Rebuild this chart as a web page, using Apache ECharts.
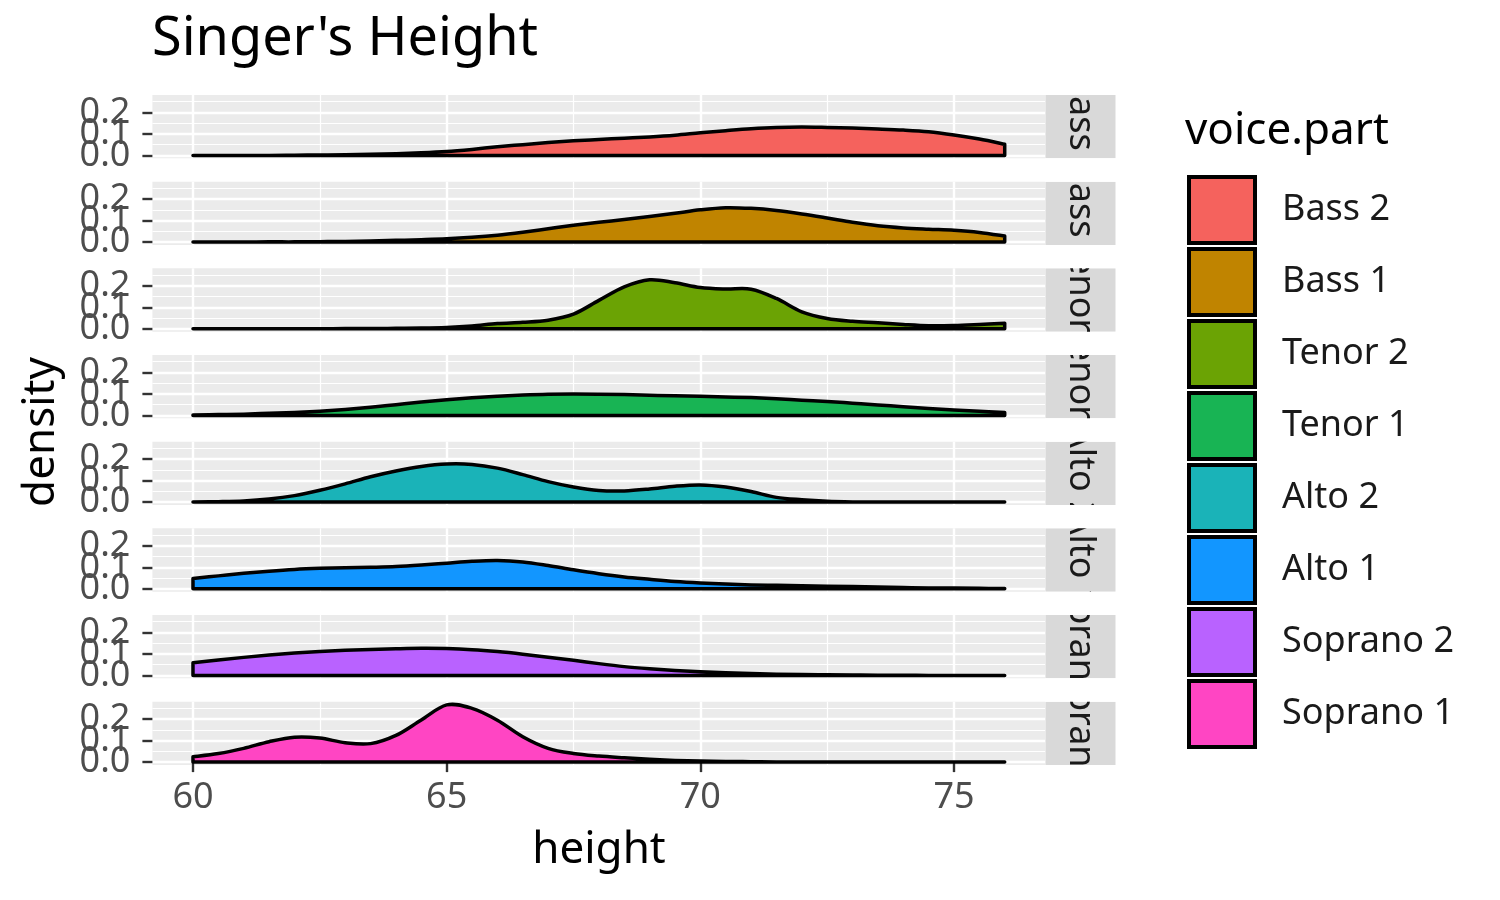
<!DOCTYPE html>
<html>
<head>
<meta charset="utf-8">
<script src="https://cdn.jsdelivr.net/npm/echarts@6/dist/echarts.min.js"></script>
<style>
  html, body { margin: 0; padding: 0; background: #fff; }
  #chart { width: 1500px; height: 900px; }
</style>
</head>
<body>
<div id="chart"></div>
<script>
// height grid the densities were read on (inches)
var heights = [60, 60.5, 61, 61.5, 62, 62.5, 63, 63.5, 64, 64.5, 65, 65.5, 66, 66.5, 67, 67.5,
               68, 68.5, 69, 69.5, 70, 70.5, 71, 71.5, 72, 72.5, 73, 73.5, 74, 74.5, 75, 75.5, 76];

var voiceParts = ['Bass 2', 'Bass 1', 'Tenor 2', 'Tenor 1', 'Alto 2', 'Alto 1', 'Soprano 2', 'Soprano 1'];
var partColors = ['#F5625D', '#C08400', '#6BA304', '#18B454', '#1AB3B8', '#1296FF', '#B962FF', '#FF45C3'];

var bass2 = [0, 0, 0, 0, 0.001, 0.002, 0.003, 0.005, 0.008, 0.012, 0.018, 0.028, 0.040, 0.050, 0.060, 0.068,
             0.074, 0.080, 0.086, 0.094, 0.105, 0.115, 0.124, 0.130, 0.132, 0.130, 0.127, 0.123, 0.118, 0.110, 0.095, 0.076, 0.052];
var bass1 = [0, 0, 0, 0.001, 0.001, 0.002, 0.003, 0.005, 0.008, 0.011, 0.015, 0.022, 0.032, 0.046, 0.062, 0.078,
             0.092, 0.105, 0.119, 0.134, 0.150, 0.160, 0.157, 0.147, 0.131, 0.112, 0.092, 0.076, 0.066, 0.060, 0.055, 0.045, 0.028];
var tenor2 = [0, 0, 0, 0, 0, 0, 0.001, 0.001, 0.002, 0.003, 0.006, 0.013, 0.024, 0.030, 0.040, 0.068,
              0.132, 0.195, 0.228, 0.214, 0.192, 0.185, 0.184, 0.141, 0.079, 0.048, 0.035, 0.028, 0.020, 0.014, 0.015, 0.020, 0.026];
var tenor1 = [0.002, 0.004, 0.006, 0.010, 0.014, 0.020, 0.028, 0.038, 0.050, 0.062, 0.073, 0.082, 0.089, 0.095, 0.099, 0.100,
              0.099, 0.097, 0.094, 0.091, 0.089, 0.086, 0.083, 0.078, 0.071, 0.065, 0.057, 0.049, 0.040, 0.032, 0.025, 0.019, 0.014];
var alto2 = [0.001, 0.002, 0.005, 0.014, 0.030, 0.055, 0.085, 0.118, 0.145, 0.166, 0.177, 0.175, 0.158, 0.128, 0.095, 0.070,
             0.054, 0.052, 0.061, 0.074, 0.080, 0.070, 0.049, 0.022, 0.011, 0.004, 0.001, 0, 0, 0, 0, 0, 0];
var alto1 = [0.048, 0.060, 0.072, 0.082, 0.090, 0.095, 0.098, 0.100, 0.103, 0.110, 0.119, 0.128, 0.132, 0.125, 0.108, 0.088,
             0.070, 0.055, 0.044, 0.034, 0.027, 0.022, 0.018, 0.016, 0.014, 0.012, 0.010, 0.008, 0.006, 0.004, 0.003, 0.002, 0.001];
var soprano2 = [0.059, 0.072, 0.084, 0.095, 0.104, 0.111, 0.117, 0.121, 0.124, 0.126, 0.125, 0.120, 0.111, 0.099, 0.085, 0.071,
                0.055, 0.041, 0.031, 0.023, 0.017, 0.012, 0.009, 0.006, 0.004, 0.003, 0.002, 0.001, 0.001, 0, 0, 0, 0];
var soprano1 = [0.025, 0.040, 0.064, 0.095, 0.116, 0.112, 0.090, 0.086, 0.124, 0.196, 0.266, 0.250, 0.195, 0.118, 0.064, 0.040,
                0.028, 0.020, 0.013, 0.008, 0.005, 0.003, 0.002, 0.001, 0.001, 0, 0, 0, 0, 0, 0, 0, 0];

var densities = [bass2, bass1, tenor2, tenor1, alto2, alto1, soprano2, soprano1];

var xMajorTicks = [60, 65, 70, 75];
var xMinorTicks = [62.5, 67.5, 72.5];
// the three y labels overlap, so they are split over two stacked axes
var yMajorTicksOuter = [0, 0.2];
var yMajorTicksMiddle = [0.1];
var yMinorTicks = [0.05, 0.15, 0.25];

var FONT = 'Noto Sans';
var PANEL_LEFT = 152.4, PANEL_W = 892.9, PANEL_TOP = 95, PANEL_H = 63.3, PANEL_STEP = 86.67;
var STRIP_W = 70.4;
var OUTLINE = 3.5;
var Y_MIN = -0.0134, Y_MAX = 0.281;

// density outline as a closed polygon: baseline, end edges, smooth top through the points
function densityRenderer(dens, color) {
  return function (params, api) {
    var n = heights.length;
    var pts = heights.map(function (h, k) { return api.coord([h, dens[k]]); });
    var b0 = api.coord([heights[0], 0]);
    var bN = api.coord([heights[n - 1], 0]);
    var baseY = b0[1];
    var d = 'M' + b0[0] + ',' + b0[1] + 'L' + pts[0][0] + ',' + pts[0][1];
    for (var k = 0; k < n - 1; k++) {
      var p0 = pts[Math.max(k - 1, 0)], p1 = pts[k], p2 = pts[k + 1], p3 = pts[Math.min(k + 2, n - 1)];
      var c1x = p1[0] + (p2[0] - p0[0]) / 6, c1y = Math.min(baseY, p1[1] + (p2[1] - p0[1]) / 6);
      var c2x = p2[0] - (p3[0] - p1[0]) / 6, c2y = Math.min(baseY, p2[1] - (p3[1] - p1[1]) / 6);
      d += 'C' + c1x + ',' + c1y + ',' + c2x + ',' + c2y + ',' + p2[0] + ',' + p2[1];
    }
    d += 'L' + bN[0] + ',' + bN[1] + 'Z';
    return {
      type: 'path',
      shape: { pathData: d },
      style: { fill: color, stroke: '#000000', lineWidth: OUTLINE, lineJoin: 'round' }
    };
  };
}

function stripRenderer(label) {
  return function (params, api) {
    var cs = params.coordSys;
    var sx = cs.x + cs.width, sy = cs.y, sh = cs.height;
    return {
      type: 'group',
      clipPath: { type: 'rect', shape: { x: sx, y: sy, width: STRIP_W, height: sh } },
      children: [
        { type: 'rect', shape: { x: sx, y: sy, width: STRIP_W, height: sh }, style: { fill: '#D9D9D9' } },
        {
          type: 'text', x: sx + STRIP_W / 2, y: sy + sh / 2, rotation: -Math.PI / 2,
          style: { text: label, fill: '#1A1A1A', fontSize: 36, fontFamily: FONT,
                   align: 'center', verticalAlign: 'middle', textAlign: 'center', textVerticalAlign: 'middle' }
        }
      ]
    };
  };
}

function majorYAxis(gridIndex, ticks) {
  return {
    type: 'value', gridIndex: gridIndex, min: Y_MIN, max: Y_MAX, position: 'left',
    axisLine: { show: false },
    axisTick: { show: true, interval: 0, customValues: ticks, length: 10, lineStyle: { color: '#333333', width: 2.4 } },
    axisLabel: {
      interval: 0, hideOverlap: false, showMinLabel: true, showMaxLabel: true,
      customValues: ticks, margin: 22, fontSize: 36, fontFamily: FONT, color: '#4D4D4D',
      formatter: function (v) { return v.toFixed(1); }
    },
    splitLine: { show: true, interval: 0, lineStyle: { color: '#FFFFFF', width: 2.4 } }
  };
}

var grids = [], xAxes = [], yAxes = [], series = [];

for (var i = 0; i < voiceParts.length; i++) {
  var last = i === voiceParts.length - 1;

  grids.push({
    left: PANEL_LEFT, top: PANEL_TOP + i * PANEL_STEP, width: PANEL_W, height: PANEL_H,
    show: true, backgroundColor: '#EBEBEB', borderWidth: 0
  });

  // major x: labels only on the bottom panel
  xAxes.push({
    type: 'value', gridIndex: i, min: 59.2, max: 76.8, position: 'bottom',
    axisLine: { show: false },
    axisTick: { show: last, interval: 0, customValues: xMajorTicks, length: 10, lineStyle: { color: '#333333', width: 2.4 } },
    axisLabel: { show: last, interval: 0, hideOverlap: false, customValues: xMajorTicks, margin: 15,
                 fontSize: 36, fontFamily: FONT, color: '#4D4D4D' },
    splitLine: { show: true, interval: 0, lineStyle: { color: '#FFFFFF', width: 2.4 } }
  });
  // minor x gridlines
  xAxes.push({
    type: 'value', gridIndex: i, min: 59.2, max: 76.8, position: 'top',
    axisLine: { show: false },
    axisTick: { show: false, interval: 0, customValues: xMinorTicks },
    axisLabel: { show: false },
    splitLine: { show: true, interval: 0, lineStyle: { color: '#FFFFFF', width: 1.2 } }
  });

  yAxes.push(majorYAxis(i, yMajorTicksOuter));
  yAxes.push(majorYAxis(i, yMajorTicksMiddle));
  // minor y gridlines
  yAxes.push({
    type: 'value', gridIndex: i, min: Y_MIN, max: Y_MAX, position: 'right',
    axisLine: { show: false },
    axisTick: { show: false, interval: 0, customValues: yMinorTicks },
    axisLabel: { show: false },
    splitLine: { show: true, interval: 0, lineStyle: { color: '#FFFFFF', width: 1.2 } }
  });

  series.push({
    type: 'custom', name: voiceParts[i], xAxisIndex: 2 * i, yAxisIndex: 3 * i,
    data: [[heights[0], 0]], silent: true, z: 3,
    itemStyle: { color: partColors[i] },
    renderItem: densityRenderer(densities[i], partColors[i])
  });
  // facet strip on the right, text clipped to the strip box
  series.push({
    type: 'custom', name: 'strip ' + voiceParts[i], xAxisIndex: 2 * i, yAxisIndex: 3 * i,
    data: [[heights[0], 0]], silent: true, z: 5,
    renderItem: stripRenderer(voiceParts[i])
  });
}

var chart = echarts.init(document.getElementById('chart'));
chart.setOption({
  animation: false,
  backgroundColor: '#FFFFFF',
  grid: grids,
  xAxis: xAxes,
  yAxis: yAxes,
  legend: {
    orient: 'vertical', left: 1182, top: 170,
    itemWidth: 66, itemHeight: 66, itemGap: 2, icon: 'rect',
    selectedMode: false,
    textStyle: { fontSize: 36, fontFamily: FONT, color: '#1A1A1A', padding: [0, 0, 0, 22] },
    data: voiceParts.map(function (p, k) {
      return { name: p, icon: 'rect', itemStyle: { color: partColors[k], borderColor: '#000000', borderWidth: 4 } };
    })
  },
  graphic: [
    { type: 'text', x: 152, y: 40, style: { text: "Singer's Height", fill: '#000000', fontSize: 54, fontFamily: FONT,
      align: 'left', verticalAlign: 'middle', textAlign: 'left', textVerticalAlign: 'middle' } },
    { type: 'text', x: 1185, y: 131, style: { text: 'voice.part', fill: '#000000', fontSize: 44, fontFamily: FONT,
      align: 'left', verticalAlign: 'middle', textAlign: 'left', textVerticalAlign: 'middle' } },
    { type: 'text', x: 599, y: 850, style: { text: 'height', fill: '#000000', fontSize: 44, fontFamily: FONT,
      align: 'center', verticalAlign: 'middle', textAlign: 'center', textVerticalAlign: 'middle' } },
    { type: 'text', x: 41, y: 432, rotation: Math.PI / 2, style: { text: 'density', fill: '#000000', fontSize: 44, fontFamily: FONT,
      align: 'center', verticalAlign: 'middle', textAlign: 'center', textVerticalAlign: 'middle' } }
  ],
  series: series
});
</script>
</body>
</html>
